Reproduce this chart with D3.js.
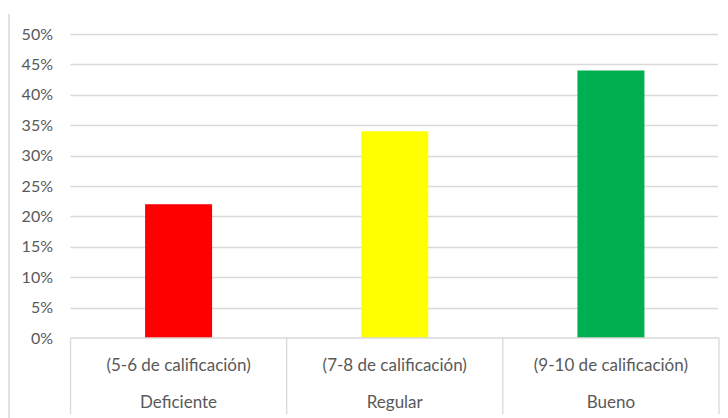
<!DOCTYPE html>
<html><head><meta charset="utf-8">
<script src="https://cdn.jsdelivr.net/npm/d3@7"></script>
<style>body{margin:0;background:#fff}svg{display:block}</style>
</head><body>
<script>
const categories = ["Deficiente", "Regular", "Bueno"];
const subLabels = ["(5-6 de calificación)", "(7-8 de calificación)", "(9-10 de calificación)"];
const values = [0.22, 0.34, 0.44];
const colors = ["#FF0000", "#FFFF00", "#00B050"];
const yTicks = [0, 0.05, 0.10, 0.15, 0.20, 0.25, 0.30, 0.35, 0.40, 0.45, 0.50];

const W = 728, H = 418;
const mLeft = 70.5, mRight = 719, mTop = 34, mBottom = 338;
const svg = d3.select("body").append("svg").attr("width", W).attr("height", H);
const font = "Lato, 'Open Sans', 'Liberation Sans', sans-serif";

// outer left border
svg.append("line").attr("x1", 9).attr("x2", 9).attr("y1", 14).attr("y2", H)
  .attr("stroke", "#d9d9d9").attr("stroke-width", 1.5);

const x = d3.scaleBand().domain(categories).range([mLeft, mRight]).paddingInner(0).paddingOuter(0);
const y = d3.scaleLinear().domain([0, 0.5]).range([mBottom, mTop]);

// gridlines
svg.append("g").selectAll("line").data(yTicks.slice(1)).join("line")
  .attr("x1", mLeft).attr("x2", mRight - 1)
  .attr("y1", d => Math.round(y(d)) + 0.5).attr("y2", d => Math.round(y(d)) + 0.5)
  .attr("stroke", "#d9d9d9").attr("stroke-width", 1.3);

// y tick labels
svg.append("g").selectAll("text").data(yTicks).join("text")
  .attr("x", 53).attr("y", d => y(d)).attr("dy", "0.35em")
  .attr("text-anchor", "end").attr("fill", "#595959")
  .style("font-family", font).style("font-size", "16px")
  .text(d => d3.format(".0%")(d));

// bars
const bw = 67;
svg.append("g").selectAll("rect").data(values).join("rect")
  .attr("x", (d, i) => x(categories[i]) + x.bandwidth() / 2 - bw / 2)
  .attr("width", bw)
  .attr("y", d => y(d)).attr("height", d => y(0) - y(d))
  .attr("fill", (d, i) => colors[i]);

// category axis box
const ax = svg.append("g").attr("stroke", "#d9d9d9").attr("stroke-width", 1.3);
ax.append("line").attr("x1", mLeft).attr("x2", mRight).attr("y1", mBottom).attr("y2", mBottom);
const seps = categories.map(c => x(c)).concat([mRight]);
ax.selectAll("line.sep").data(seps).join("line").attr("class", "sep")
  .attr("x1", d => d).attr("x2", d => d).attr("y1", mBottom).attr("y2", 414);

// category labels
svg.append("g").selectAll("text").data(subLabels).join("text")
  .attr("x", (d, i) => x(categories[i]) + x.bandwidth() / 2).attr("y", 365).attr("dy", "0.35em")
  .attr("text-anchor", "middle").attr("fill", "#595959")
  .style("font-family", font).style("font-size", "17px").text(d => d);
svg.append("g").selectAll("text").data(categories).join("text")
  .attr("x", d => x(d) + x.bandwidth() / 2).attr("y", 402).attr("dy", "0.35em")
  .attr("text-anchor", "middle").attr("fill", "#595959")
  .style("font-family", font).style("font-size", "17px").text(d => d);
</script>
</body></html>
